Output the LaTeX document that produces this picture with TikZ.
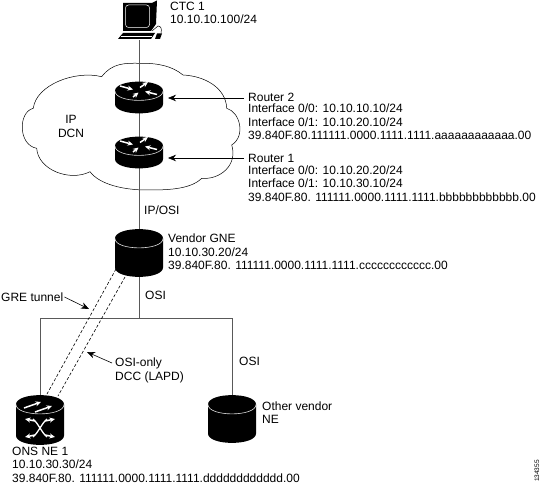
\documentclass[tikz,border=0pt]{standalone}
\usepackage{fontspec}
\setmainfont{Liberation Sans}
\usetikzlibrary{arrows.meta, positioning, calc}
\tikzset{
    devspot/.style={inner sep=0pt, minimum width=48pt, minimum height=#1},
    netlabel/.style={inner sep=0pt, align=left, anchor=north west, font=\fontsize{12}{13.55}\selectfont},
    netlink/.style={draw=black!65, line width=0.7pt},
    tunnel/.style={black, line width=0.6pt, dash pattern=on 3pt off 2pt},
    callout/.style={-{Stealth[length=8pt,width=6.5pt]}, black, line width=0.6pt},
    whitemark/.style={-{Stealth[length=5.5pt,width=5pt]}, white, line width=1.5pt},
    pics/cylicon/.style={code={
        \fill[black] (-24,-#1) -- (-24,#1) .. controls (-24,#1+12.5) and (24,#1+12.5) .. (24,#1)
            -- (24,-#1) .. controls (24,-#1-12.5) and (-24,-#1-12.5) .. (-24,-#1) -- cycle;
        \draw[white!85!black, line width=0.6pt] (-24,-#1) .. controls (-24,-#1+12.5) and (24,-#1+12.5) .. (24,-#1);
    }},
    pics/routericon/.style={code={
        \pic at (0,0) {cylicon=6.5};
        \draw[whitemark] (-19,-11.5) -- (-6,-8);
        \draw[whitemark] (18,-3) -- (6,-6);
        \draw[whitemark] (-6,-0.5) -- (-0.5,-5);
        \draw[whitemark] (1,-10) -- (9,-15.5);
    }}
}

\begin{document}
\begin{tikzpicture}[x=1pt, y=-1pt]
  \useasboundingbox (0,0) rectangle (545,486);

  % cloud
  \draw[black, line width=0.5pt] (101.7,76.7)
    .. controls (112,63) and (125,63) .. (140,63.3)
    .. controls (158,63) and (172,66) .. (183,75)
    .. controls (205,76) and (226,88) .. (226.7,108.3)
    .. controls (240,112) and (246,136) .. (231.7,145)
    .. controls (238,165) and (220,180) .. (201.7,178.3)
    .. controls (190,190) and (165,190) .. (146.7,190)
    .. controls (125,190) and (100,185) .. (90,171.7)
    .. controls (70,182) and (38,170) .. (36.7,148.3)
    .. controls (18,145) and (18,112) .. (33.3,108.3)
    .. controls (36,85) and (75,70) .. (101.7,76.7);

  \node[devspot=40pt] (ctc) at (139,20) {};
  \node[devspot=31pt] (r2) at (139,97.5) {};
  \node[devspot=31pt] (r1) at (139,152.5) {};
  \node[devspot=48pt] (gne) at (139,253) {};
  \node[devspot=50pt] (ons) at (40,420) {};
  \node[devspot=48pt] (other) at (232,419) {};
  \coordinate (bus) at (139,318);
  \coordinate (busl) at (40,318);
  \coordinate (busr) at (232,318);

  \draw[netlink] (ctc) -- (r2);
  \draw[netlink] (r2) -- (r1);
  \draw[netlink] (r1) -- (gne);
  \draw[netlink] (gne) -- (bus);
  \draw[netlink] (ons) -- (busl) -- (busr) -- (other);

  % tunnel
  \coordinate (tuna) at (116,269);
  \coordinate (tunb) at (125,277);
  \coordinate (tunc) at (47,394);
  \coordinate (tund) at (58,396);
  \draw[tunnel] (tuna) -- (tunc);
  \draw[tunnel] (tunb) -- (tund);

  \pic at (r2) {routericon};
  \pic at (r1) {routericon};
  \pic at (gne) {cylicon=14.5};
  \pic at (other) {cylicon=14.5};
  \pic at (ons) {cylicon=15.5};

  % ons marks
  \begin{scope}[shift={(ons)}]
    \draw[whitemark] (-16,-12) -- (1,-18);
    \draw[whitemark] (-5,-8) -- (12,-14);
    \draw[white, line width=1.3pt] (-7,-1) .. controls (-2,3) and (2,13) .. (7,17);
    \draw[white, line width=1.3pt] (7,-1) .. controls (2,3) and (-2,13) .. (-7,17);
    \draw[whitemark] (-5,1) -- (-15,-1);
    \draw[whitemark] (5,1) -- (15,-1);
    \draw[whitemark] (-5,15) -- (-15,17);
    \draw[whitemark] (5,15) -- (15,17);
  \end{scope}

  % computer
  \fill[black] (123,3) -- (152,3) -- (157,0.5) -- (156,24) -- (151,31) -- (123,31) -- cycle;
  \draw[white, line width=0.5pt, rounded corners=3pt] (125.5,5) rectangle (149.5,27.5);
  \draw[black, line width=0.5pt] (152,31) -- (158,26) .. controls (161,26) and (162,29) .. (161,33);
  \fill[black] (123,33) -- (155,33) -- (151,39) -- (118,39) -- cycle;
  \draw[white, line width=0.4pt] (121,36) -- (152,36);
  \fill[black] (157,33.5) -- (162,33.5) -- (160,39) -- (155,39) -- cycle;

  % labels
  \node[netlabel] (ctctxt) at (170,1.5) {CTC 1\\10.10.10.100/24};
  \node[netlabel, align=center, anchor=north] (dcn) at (71,115) {IP\\DCN};
  \node[netlabel, anchor=west] (r2name) at (248,97) {Router 2};
  \node[netlabel] (r2txt) at (248,104) {Interface 0/0: 10.10.10.10/24\\Interface 0/1: 10.10.20.10/24\\39.840F.80.111111.0000.1111.1111.aaaaaaaaaaaa.00};
  \node[netlabel, anchor=west] (r1name) at (248,158) {Router 1};
  \node[netlabel] (r1txt) at (248,165.5) {Interface 0/0: 10.10.20.20/24\\Interface 0/1: 10.10.30.10/24\\39.840F.80. 111111.0000.1111.1111.bbbbbbbbbbbb.00};
  \node[netlabel] (ipos) at (144,206) {IP/OSI};
  \node[netlabel] (gnetxt) at (168,234) {Vendor GNE\\10.10.30.20/24\\39.840F.80. 111111.0000.1111.1111.cccccccccccc.00};
  \node[netlabel] (osia) at (145,291) {OSI};
  \node[netlabel, anchor=west] (gre) at (1,297) {GRE tunnel};
  \node[netlabel] (osib) at (239,357) {OSI};
  \node[netlabel] (dcc) at (115,358) {OSI-only\\DCC (LAPD)};
  \node[netlabel] (othertxt) at (262,401.5) {Other vendor\\NE};
  \node[netlabel] (onstxt) at (12,446.5) {ONS NE 1\\10.10.30.30/24\\39.840F.80. 111111.0000.1111.1111.dddddddddddd.00};
  \node[inner sep=0pt, rotate=90, font=\fontsize{6.5}{7}\selectfont] (figno) at (537,471) {134355};

  % callouts
  \coordinate (r2tip) at (168,98);
  \coordinate (r1tip) at (168,158);
  \coordinate (gretip) at (89,309);
  \coordinate (dcctip) at (87,352);
  \coordinate (dccout) at (112,363);
  \draw[callout] (r2name.west) ++(-4,1) -- (r2tip);
  \draw[callout] (r1name.west) ++(-4,0) -- (r1tip);
  \draw[callout] (gre.east) ++(1,0) -- (gretip);
  \draw[callout] (dccout) -- (dcctip);
\end{tikzpicture}
\end{document}
